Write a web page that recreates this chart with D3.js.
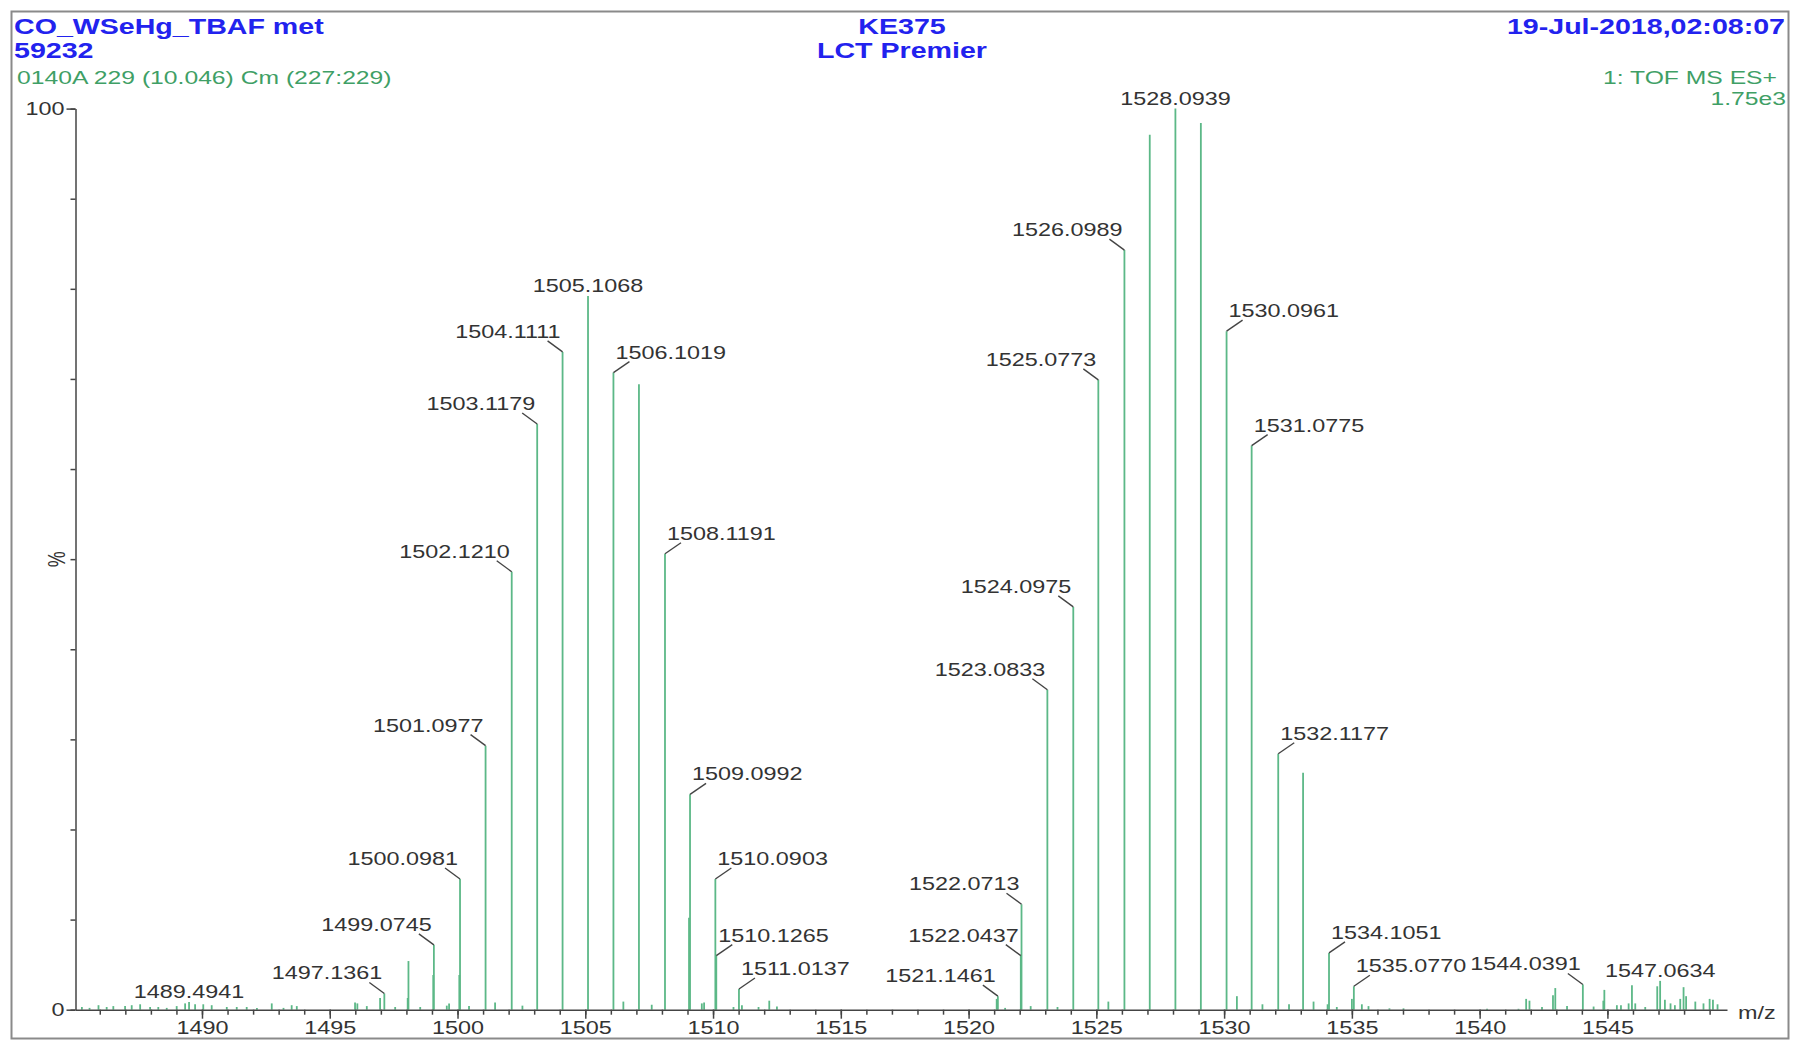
<!DOCTYPE html>
<html>
<head>
<meta charset="utf-8">
<script src="https://cdn.jsdelivr.net/npm/d3@7"></script>
<style>
  html, body { margin: 0; padding: 0; background: #fff; }
  svg { display: block; font-family: "Liberation Sans", Arial, Helvetica, sans-serif; }
</style>
</head>
<body>
<svg id="chart" width="1793" height="1041"></svg>
<script>
// ---------- data ----------
const labeledMz = [1489.4941, 1497.1361, 1499.0745, 1500.0981, 1501.0977, 1502.1210, 1503.1179, 1504.1111,
  1505.1068, 1506.1019, 1508.1191, 1509.0992, 1510.0903, 1510.1265, 1511.0137, 1521.1461, 1522.0437,
  1522.0713, 1523.0833, 1524.0975, 1525.0773, 1526.0989, 1528.0939, 1530.0961, 1531.0775, 1532.1177,
  1534.1051, 1535.0770, 1544.0391, 1547.0634];
const labeledInt = [0.85, 1.8, 7.2, 14.5, 29.3, 48.6, 65.0, 73.0,
  79.2, 70.7, 50.6, 23.9, 14.5, 6.0, 2.3, 1.5, 6.0,
  11.7, 35.5, 44.7, 69.9, 84.3, 100, 75.3, 62.6, 28.4,
  6.3, 2.6, 2.8, 3.2];
// label placement (layout): L = left, R = right, C = centred above
const labelSide = ["C", "L", "L", "L", "L", "L", "L", "L",
  "C", "R", "R", "R", "R", "R", "R", "L", "L",
  "L", "L", "L", "L", "L", "C", "R", "R", "R",
  "R", "R", "L", "C"];

const otherMz = [1498.08, 1498.05, 1499.05, 1500.07, 1507.10, 1509.06, 1527.09, 1529.09, 1533.09, 1521.10,
  1485.30, 1485.60, 1485.95, 1486.27, 1486.53, 1486.99, 1487.25, 1487.58, 1487.97, 1488.29, 1488.62,
  1489.01, 1489.34, 1489.73, 1490.05, 1490.38, 1490.97, 1491.36, 1491.75, 1492.15, 1492.73, 1493.19,
  1493.51, 1493.71, 1495.99, 1496.08, 1496.45, 1496.97, 1497.56, 1498.54, 1499.58, 1499.67, 1500.45,
  1501.47, 1502.54, 1506.49, 1507.60, 1509.56, 1509.65, 1510.80, 1511.13, 1511.78, 1512.20, 1512.50,
  1521.43, 1522.43, 1523.48, 1525.47, 1530.50, 1531.50, 1532.54, 1533.50, 1534.05, 1534.41, 1535.00,
  1535.39, 1535.65, 1536.47, 1537.02, 1540.29, 1541.52, 1541.82, 1541.95, 1542.44, 1542.87, 1542.96,
  1543.42, 1544.46, 1544.84, 1544.88, 1545.37, 1545.53, 1545.83, 1545.96, 1546.09, 1546.48, 1546.95,
  1547.25, 1547.47, 1547.64, 1547.85, 1547.98, 1548.08, 1548.44, 1548.76, 1549.00, 1549.13, 1549.31];
const otherInt = [5.4, 1.3, 3.85, 3.85, 69.4, 10.2, 97.1, 98.4, 26.3, 1.2,
  0.3, 0.2, 0.5, 0.3, 0.4, 0.4, 0.5, 0.6, 0.3, 0.3, 0.2,
  0.4, 0.7, 0.6, 0.6, 0.5, 0.3, 0.3, 0.3, 0.2, 0.7, 0.2,
  0.5, 0.4, 0.8, 0.7, 0.4, 1.3, 0.3, 0.3, 0.45, 0.7, 0.4,
  0.8, 0.45, 0.9, 0.55, 0.7, 0.8, 0.3, 0.5, 0.3, 1.0, 0.35,
  0.2, 0.4, 0.3, 0.9, 1.5, 0.6, 0.6, 0.9, 0.6, 0.3, 1.2,
  0.6, 0.4, 0.15, 0.15, 0.1, 0.1, 1.2, 1.0, 0.3, 1.6, 2.4,
  0.4, 0.35, 1.0, 2.2, 0.5, 0.5, 0.7, 2.7, 0.7, 0.3, 2.6,
  1.1, 0.7, 0.5, 1.2, 2.5, 1.5, 0.9, 0.7, 1.2, 1.1, 0.6];

const xMajorTicks = [1490, 1495, 1500, 1505, 1510, 1515, 1520, 1525, 1530, 1535, 1540, 1545];
const yMajorTicks = [0, 100];

const headerLeft = ["CO_WSeHg_TBAF met", "59232"];
const headerCenter = ["KE375", "LCT Premier"];
const headerRight = "19-Jul-2018,02:08:07";
const subLeft = "0140A 229 (10.046) Cm (227:229)";
const subRight = ["1: TOF MS ES+", "1.75e3"];

// ---------- drawing ----------
const SX = 1.3; // horizontal stretch of all text
const svg = d3.select("#chart");
const BLUE = "#2222ee", GREEN_T = "#3f9f66", PEAK = "#5cb887", TXT = "#333";

function txt(g, str, x, y, opt) {
  return g.append("text")
    .attr("transform", `translate(${x},${y}) scale(${SX},1)`)
    .attr("text-anchor", opt.anchor || "start")
    .attr("font-size", opt.size)
    .attr("font-weight", opt.weight || "normal")
    .attr("fill", opt.fill || TXT)
    .text(str);
}

// frame
svg.append("rect").attr("x", 11.5).attr("y", 11.5).attr("width", 1777).attr("height", 1027)
  .attr("fill", "none").attr("stroke", "#8a8a8a").attr("stroke-width", 2);

// header
txt(svg, headerLeft[0], 14, 34, {size: 22, weight: "bold", fill: BLUE});
txt(svg, headerLeft[1], 14, 58, {size: 22, weight: "bold", fill: BLUE});
txt(svg, headerCenter[0], 902, 34, {size: 22, weight: "bold", fill: BLUE, anchor: "middle"});
txt(svg, headerCenter[1], 902, 58, {size: 22, weight: "bold", fill: BLUE, anchor: "middle"});
txt(svg, headerRight, 1785, 34, {size: 22, weight: "bold", fill: BLUE, anchor: "end"});
txt(svg, subLeft, 17, 84, {size: 19, fill: GREEN_T});
txt(svg, subRight[0], 1777, 84, {size: 19, fill: GREEN_T, anchor: "end"});
txt(svg, subRight[1], 1786, 105, {size: 19, fill: GREEN_T, anchor: "end"});

// scales
const x = d3.scaleLinear().domain([1485.05, 1549.68]).range([75.5, 1727]);
const y = d3.scaleLinear().domain([0, 100]).range([1009.7, 108.6]);

// peaks
const peaks = otherMz.map((m, i) => ({mz: m, v: otherInt[i]}))
  .concat(labeledMz.map((m, i) => ({mz: m, v: labeledInt[i]})));
svg.append("g").selectAll("line").data(peaks).join("line")
  .attr("x1", d => x(d.mz)).attr("x2", d => x(d.mz))
  .attr("y1", y(0)).attr("y2", d => y(d.v))
  .attr("stroke", PEAK).attr("stroke-width", 1.8);

// axes
const axisColor = "#444";
const gx = svg.append("g").attr("transform", `translate(0,${y(0)})`);
gx.call(d3.axisBottom(x).tickValues(d3.range(1486, 1550)).tickSize(5).tickSizeOuter(0).tickFormat(""));
const gx2 = svg.append("g").attr("transform", `translate(0,${y(0)})`);
gx2.call(d3.axisBottom(x).tickValues(xMajorTicks).tickSize(9).tickSizeOuter(0).tickPadding(3).tickFormat(d3.format("d")));
[gx, gx2].forEach(g => {
  g.selectAll("path,line").attr("stroke", axisColor).attr("stroke-width", 1.5);
});
gx2.select(".domain").remove();
gx2.selectAll("text").attr("font-size", 18).attr("fill", TXT)
  .attr("font-family", "Liberation Sans, Arial, sans-serif")
  .attr("transform", `scale(${SX},1)`);

const gy = svg.append("g").attr("transform", `translate(${x(1485.05)},0)`);
gy.call(d3.axisLeft(y).tickValues(d3.range(0, 101, 10)).tickSize(5).tickSizeOuter(0).tickFormat(""));
const gy2 = svg.append("g").attr("transform", `translate(${x(1485.05)},0)`);
gy2.call(d3.axisLeft(y).tickValues(yMajorTicks).tickSize(9).tickSizeOuter(0).tickPadding(2).tickFormat(d3.format("d")));
[gy, gy2].forEach(g => {
  g.selectAll("path,line").attr("stroke", axisColor).attr("stroke-width", 1.5);
});
gy2.select(".domain").remove();
gy2.selectAll("text").attr("font-size", 18).attr("fill", TXT)
  .attr("font-family", "Liberation Sans, Arial, sans-serif")
  .attr("x", -11 / SX)
  .attr("transform", `scale(${SX},1)`);

// axis titles
svg.append("text")
  .attr("transform", `translate(65,${y(50)}) rotate(-90) scale(1,${SX})`)
  .attr("text-anchor", "middle").attr("font-size", 18).attr("fill", TXT).text("%");
txt(svg, "m/z", 1738, 1019, {size: 18});

// peak labels with leader lines
const lab = svg.append("g");
labeledMz.forEach((m, i) => {
  const px = x(m), py = y(labeledInt[i]);
  const side = labelSide[i];
  const s = m.toFixed(4);
  if (side === "C") {
    txt(lab, s, px, py - 4, {size: 18, anchor: "middle"});
  } else if (side === "L") {
    lab.append("line").attr("x1", px).attr("y1", py).attr("x2", px - 15).attr("y2", py - 11)
      .attr("stroke", "#444").attr("stroke-width", 1.4);
    txt(lab, s, px - 2, py - 14, {size: 18, anchor: "end"});
  } else {
    lab.append("line").attr("x1", px).attr("y1", py).attr("x2", px + 16).attr("y2", py - 11)
      .attr("stroke", "#444").attr("stroke-width", 1.4);
    txt(lab, s, px + 2, py - 14, {size: 18, anchor: "start"});
  }
});
</script>
</body>
</html>
